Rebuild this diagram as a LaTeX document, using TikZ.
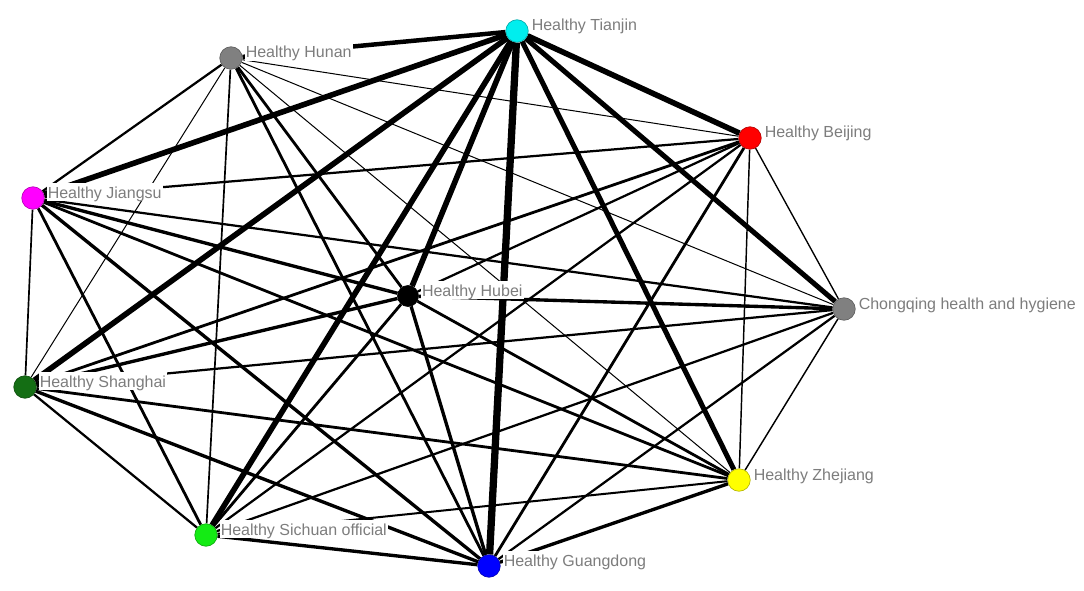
\documentclass[tikz,border=0pt]{standalone}
\usepackage{fontspec}
\setmainfont{Liberation Sans}
\pgfdeclarelayer{back}
\pgfdeclarelayer{edges}
\pgfsetlayers{back,edges,main}
\definecolor{cTianjin}{RGB}{0,238,238}
\definecolor{cGray}{RGB}{128,128,128}
\definecolor{cRed}{RGB}{255,0,0}
\definecolor{cMagenta}{RGB}{255,0,255}
\definecolor{cBlack}{RGB}{0,0,0}
\definecolor{cDkGreen}{RGB}{20,110,20}
\definecolor{cYellow}{RGB}{255,255,0}
\definecolor{cGreen}{RGB}{20,235,20}
\definecolor{cBlue}{RGB}{0,0,255}
\definecolor{txtgray}{RGB}{125,125,125}
\begin{document}
\begin{tikzpicture}[x=1pt,y=-1pt,
  vtx/.style={circle, draw=#1!70!black, fill=#1, minimum size=22.5pt, inner sep=0pt, line width=0.6pt},
  lbl/.style={fill=white, text=txtgray, font=\fontsize{16}{18}\selectfont, inner xsep=1pt, inner ysep=1.5pt, text height=14pt, text depth=1.5pt, anchor=base west},
  lnk/.style={line width=1.12*#1pt, draw=black},
]
\useasboundingbox (0,0) rectangle (1084,591);
\begin{pgfonlayer}{back}
\fill[white] (0,0) rectangle (1084,591);
\end{pgfonlayer}
% vertices
\node[vtx=cTianjin] (T)  at (517,31)  {};
\node[vtx=cGray]    (Hn) at (231,58)  {};
\node[vtx=cRed]     (B)  at (750,138) {};
\node[vtx=cMagenta] (J)  at (33,198)  {};
\node[vtx=cBlack, minimum size=21pt] (Hb) at (408,296) {};
\node[vtx=cGray]    (C)  at (844,309) {};
\node[vtx=cDkGreen] (S)  at (25,387)  {};
\node[vtx=cYellow]  (Z)  at (739,480) {};
\node[vtx=cGreen]   (Si) at (206,535) {};
\node[vtx=cBlue]    (G)  at (489,566) {};
% labels
\node[lbl] (Tl)  at ([xshift=2pt]T.east)  {Healthy Tianjin};
\node[lbl] (Hnl) at ([xshift=2pt]Hn.east) {Healthy Hunan};
\node[lbl] (Bl)  at ([xshift=2pt]B.east)  {Healthy Beijing};
\node[lbl] (Jl)  at ([xshift=2pt]J.east)  {Healthy Jiangsu};
\node[lbl] (Hbl) at ([xshift=2pt]Hb.east) {Healthy Hubei};
\node[lbl] (Cl)  at ([xshift=2pt]C.east)  {Chongqing health and hygiene};
\node[lbl] (Sl)  at ([xshift=2pt]S.east)  {Healthy Shanghai};
\node[lbl] (Zl)  at ([xshift=2pt]Z.east)  {Healthy Zhejiang};
\node[lbl] (Sil) at ([xshift=2pt]Si.east) {Healthy Sichuan official};
\node[lbl] (Gl)  at ([xshift=2pt]G.east)  {Healthy Guangdong};
% edges
\begin{pgfonlayer}{edges}
\draw[lnk=4]   (T) -- (Hn);
\draw[lnk=5]   (T) -- (J);
\draw[lnk=5]   (T) -- (B);
\draw[lnk=5]   (T) -- (Hb);
\draw[lnk=6.5] (T) -- (G);
\draw[lnk=5]   (T) -- (Si);
\draw[lnk=5]   (T) -- (S);
\draw[lnk=4.5] (T) -- (C);
\draw[lnk=4.5] (T) -- (Z);
\draw[lnk=2]   (Hn) -- (J);
\draw[lnk=0.9] (Hn) -- (S);
\draw[lnk=1.5] (Hn) -- (Si);
\draw[lnk=2.5] (Hn) -- (Hb);
\draw[lnk=2.5] (Hn) -- (G);
\draw[lnk=0.9] (Hn) -- (B);
\draw[lnk=0.9] (Hn) -- (C);
\draw[lnk=0.9] (Hn) -- (Z);
\draw[lnk=2]   (B) -- (J);
\draw[lnk=2]   (B) -- (Hb);
\draw[lnk=2.5] (B) -- (S);
\draw[lnk=1.2] (B) -- (C);
\draw[lnk=1.3] (B) -- (Z);
\draw[lnk=2]   (B) -- (Si);
\draw[lnk=2.5] (B) -- (G);
\draw[lnk=1.5] (J) -- (S);
\draw[lnk=2.5] (J) -- (Si);
\draw[lnk=3]   (J) -- (Hb);
\draw[lnk=2]   (J) -- (C);
\draw[lnk=2.5] (J) -- (Z);
\draw[lnk=3]   (J) -- (G);
\draw[lnk=3]   (Hb) -- (C);
\draw[lnk=3]   (Hb) -- (S);
\draw[lnk=2.5] (Hb) -- (Z);
\draw[lnk=2.5] (Hb) -- (Si);
\draw[lnk=3]   (Hb) -- (G);
\draw[lnk=2]   (C) -- (S);
\draw[lnk=2]   (C) -- (Si);
\draw[lnk=2]   (C) -- (G);
\draw[lnk=1.3] (C) -- (Z);
\draw[lnk=2.5] (S) -- (Z);
\draw[lnk=2]   (S) -- (Si);
\draw[lnk=3]   (S) -- (G);
\draw[lnk=1.8] (Z) -- (Si);
\draw[lnk=3]   (Z) -- (G);
\draw[lnk=3]   (Si) -- (G);
\end{pgfonlayer}
\end{tikzpicture}
\end{document}
